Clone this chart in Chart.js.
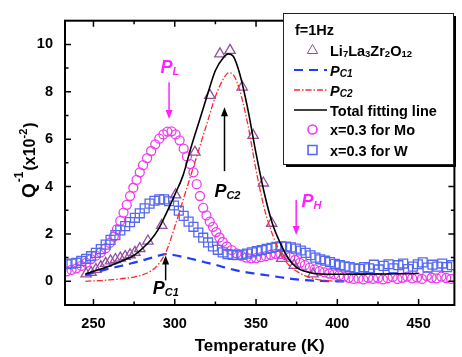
<!DOCTYPE html>
<html>
<head>
<meta charset="utf-8">
<title>Internal friction vs temperature</title>
<script src="https://cdn.jsdelivr.net/npm/chart.js@4.4.1/dist/chart.umd.min.js"></script>
<style>
    html, body { margin: 0; padding: 0; background: #fff; }
    #wrap { width: 462px; height: 357px; }
</style>
</head>
<body>
<div id="wrap"><canvas id="chart" width="462" height="357"></canvas></div>
<script>
var FONT = "'Liberation Sans', Arial, Helvetica, sans-serif";

// axis ticks
var xTicks = [250, 300, 350, 400, 450];
var xMinor = [275, 325, 375, 425];
var yTicks = [0, 2, 4, 6, 8, 10];
var yMinor = [1, 3, 5, 7, 9];

// Li7La3Zr2O12 measured points (Q^-1 in 1e-2)
var lzoTemp = [245.5, 248.5, 251.5, 254.5, 257.5, 260.5, 263.5, 266.5, 269.5, 272.5, 275.5, 278.5, 283.5, 292, 300.5, 312.4, 321.6, 327.8, 334, 341.5, 348.2, 354.5, 359.6, 365.8, 373.5, 385];
var lzoVal  = [0.31, 0.38, 0.5, 0.62, 0.76, 0.86, 0.92, 0.98, 1.05, 1.12, 1.22, 1.38, 1.7, 2.36, 3.65, 5.45, 7.85, 9.6, 9.75, 8.2, 6.16, 4.15, 2.45, 0.97, 0.67, 0.31];

// fitted peaks
var pc1Temp = [245, 250, 255, 260, 265, 270, 275, 280, 285, 290, 294.5, 300, 305, 310, 315, 320, 325, 330, 335, 340, 345, 350, 355, 360, 365, 370, 375, 380, 385, 390, 395, 400, 405];
var pc1Val  = [0.27, 0.36, 0.45, 0.54, 0.62, 0.7, 0.79, 0.88, 0.98, 1.08, 1.15, 1.1, 1.03, 0.95, 0.87, 0.78, 0.7, 0.6, 0.51, 0.43, 0.37, 0.32, 0.27, 0.22, 0.17, 0.12, 0.08, 0.05, 0.03, 0.02, 0.01, 0.0, 0.0];

var pc2Temp = [245, 250, 255, 260, 265, 270, 275, 280, 285, 290, 295, 300, 305, 310, 315, 320, 325, 330, 333, 336, 340, 345, 350, 355, 360, 365, 370, 375, 380, 385, 390, 395, 400, 405];
var pc2Val  = [0.0, 0.02, 0.03, 0.06, 0.09, 0.13, 0.18, 0.27, 0.42, 0.72, 1.3, 2.3, 3.4, 4.5, 5.6, 6.7, 7.8, 8.55, 8.8, 8.72, 8.05, 6.6, 4.7, 3.1, 2.0, 1.2, 0.7, 0.42, 0.24, 0.12, 0.05, 0.02, 0.0, 0.0];

var totalTemp = [245, 250, 255, 260, 265, 270, 275, 280, 285, 290, 295, 300, 305, 310, 315, 320, 325, 330, 333, 336, 340, 345, 350, 355, 360, 365, 370, 375, 380, 385, 390, 400, 410, 420, 430, 440, 450];
var totalVal  = [0.31, 0.42, 0.53, 0.65, 0.78, 0.93, 1.1, 1.38, 1.72, 2.2, 2.9, 3.65, 4.45, 5.65, 6.75, 7.85, 8.9, 9.45, 9.6, 9.5, 8.75, 7.25, 5.4, 3.75, 2.45, 1.6, 0.95, 0.58, 0.42, 0.34, 0.31, 0.3, 0.3, 0.31, 0.31, 0.32, 0.33];

// x=0.3 Mo doped
var moTemp = [233.5, 236.5, 239.5, 242.5, 245.5, 248.5, 251.5, 254.5, 257.5, 260, 262.5, 264.5, 266.5, 268.5, 270.5, 272.5, 274.5, 276.5, 278.5, 280.5, 283, 285.5, 288, 290.5, 293, 295.5, 298, 300.5, 303, 305.5, 307.5, 309.5, 311.5, 313.5, 315.5, 317.5, 319.5, 321.5, 323.5, 325.5, 327.5, 329.5, 332, 335, 338, 341, 344, 347, 350, 353, 356, 359, 362, 365, 368, 371, 374, 377, 380, 383, 386, 389, 392, 395, 398, 401, 404, 407, 410, 413, 416, 419, 422, 425, 428, 431, 434, 437, 440, 443, 446, 449, 452, 455, 458, 461, 464, 467, 470];
var moVal  = [0.42, 0.48, 0.55, 0.65, 0.78, 0.94, 1.08, 1.22, 1.4, 1.62, 1.89, 2.2, 2.55, 2.9, 3.23, 3.6, 3.95, 4.28, 4.6, 4.9, 5.2, 5.5, 5.78, 6.02, 6.2, 6.32, 6.33, 6.2, 5.95, 5.6, 5.27, 4.95, 4.6, 4.1, 3.6, 3.1, 2.78, 2.52, 2.3, 2.08, 1.85, 1.66, 1.47, 1.32, 1.18, 1.08, 1.0, 0.97, 0.98, 1.02, 1.06, 1.12, 1.16, 1.16, 1.12, 1.02, 0.9, 0.78, 0.68, 0.58, 0.5, 0.43, 0.38, 0.33, 0.29, 0.25, 0.2, 0.15, 0.1, 0.12, 0.08, 0.15, 0.1, 0.14, 0.08, 0.13, 0.18, 0.1, 0.15, 0.2, 0.12, 0.16, 0.1, 0.22, 0.15, 0.12, 0.2, 0.14, 0.1];

// x=0.3 W doped
var wTemp = [233.5, 236.5, 239.5, 242.5, 245.5, 248.5, 251.5, 254.5, 257.5, 260.5, 263.5, 266.5, 269.5, 272.5, 275.5, 278.5, 281.5, 284.5, 287.5, 290.5, 293.5, 296.5, 299.5, 302.5, 305.5, 308.5, 311.5, 314.5, 317.5, 320.5, 323.5, 326.5, 329.5, 332.5, 335.5, 338.5, 341.5, 344.5, 347.5, 350.5, 353.5, 356.5, 359.5, 362.5, 365.5, 368.5, 371.5, 374.5, 377.5, 380.5, 383.5, 386.5, 389.5, 392.5, 395.5, 398.5, 401.5, 404.5, 407.5, 410.5, 413.5, 416.5, 419.5, 422.5, 425.5, 428.5, 431.5, 434.5, 437.5, 440.5, 443.5, 446.5, 449.5, 452.5, 455.5, 458.5, 461.5, 464.5, 467.5, 470.5];
var wVal  = [0.72, 0.75, 0.78, 0.86, 0.95, 1.06, 1.2, 1.36, 1.55, 1.75, 1.95, 2.15, 2.33, 2.5, 2.68, 2.87, 3.08, 3.28, 3.4, 3.46, 3.46, 3.38, 3.2, 2.98, 2.76, 2.52, 2.3, 2.06, 1.84, 1.64, 1.47, 1.33, 1.22, 1.15, 1.11, 1.1, 1.13, 1.17, 1.22, 1.27, 1.32, 1.37, 1.41, 1.45, 1.48, 1.47, 1.43, 1.38, 1.3, 1.2, 1.1, 1.0, 0.93, 0.87, 0.81, 0.74, 0.68, 0.63, 0.6, 0.55, 0.53, 0.6, 0.55, 0.7, 0.5, 0.65, 0.72, 0.55, 0.68, 0.75, 0.52, 0.62, 0.72, 0.8, 0.58, 0.7, 0.62, 0.75, 0.6, 0.68];

var MAGENTA = '#f03cf0';
var PINK = '#ff22ff';
var BLUE_SQ = '#5468f0';
var PURPLE = '#9450a0';
var BLUE_DASH = '#1f3dff';
var RED = '#ff2a2a';

function points(xs, ys)
{
    return xs.map(function(x, i) { return {x: x, y: ys[i]}; });
}

// peak markers: arrow [temp, from, to] and label anchor [temp, baseline value]
var notes = [
    {main: 'P', sub: 'L',  color: PINK,   arrow: [296.5, 8.4, 6.85], label: [291.3, 8.81]},
    {main: 'P', sub: 'C2', color: '#000', arrow: [330.6, 4.65, 7.35], label: [324.4, 3.56]},
    {main: 'P', sub: 'C1', color: '#000', arrow: [294.4, 0.04, 1.09], label: [286.5, -0.53]},
    {main: 'P', sub: 'H',  color: PINK,   arrow: [374.7, 3.43, 1.95], label: [377.9, 3.15]}
];

function drawRich(ctx, parts, x, y)
{
    parts.forEach(function(p)
    {
        ctx.font = p.font;
        ctx.fillText(p.text, x, y + (p.dy || 0));
        x += ctx.measureText(p.text).width + (p.gap || 0);
    });
    return x;
}

function drawArrow(ctx, x, y0, y1, color)
{
    var dir = y1 > y0 ? 1 : -1;
    ctx.strokeStyle = color;
    ctx.fillStyle = color;
    ctx.lineWidth = 1.5;
    ctx.beginPath();
    ctx.moveTo(x, y0);
    ctx.lineTo(x, y1 - dir * 8);
    ctx.stroke();
    ctx.beginPath();
    ctx.moveTo(x, y1);
    ctx.lineTo(x - 3.5, y1 - dir * 9);
    ctx.lineTo(x + 3.5, y1 - dir * 9);
    ctx.closePath();
    ctx.fill();
}

var framePlugin = {
    id: 'frame',
    afterDatasetsDraw: function(chart)
    {
        var ctx = chart.ctx;
        var a = chart.chartArea;
        var xs = chart.scales.x;
        var ys = chart.scales.y;

        ctx.save();
        ctx.strokeStyle = '#000';
        ctx.lineWidth = 1.5;
        ctx.beginPath();
        function xTick(v, len)
        {
            var px = xs.getPixelForValue(v);
            ctx.moveTo(px, a.bottom); ctx.lineTo(px, a.bottom - len);
            ctx.moveTo(px, a.top); ctx.lineTo(px, a.top + len);
        }
        function yTick(v, len)
        {
            var py = ys.getPixelForValue(v);
            ctx.moveTo(a.left, py); ctx.lineTo(a.left + len, py);
            ctx.moveTo(a.right, py); ctx.lineTo(a.right - len, py);
        }
        xTicks.forEach(function(v) { xTick(v, 6); });
        xMinor.forEach(function(v) { xTick(v, 3.5); });
        yTicks.forEach(function(v) { yTick(v, 6); });
        yMinor.forEach(function(v) { yTick(v, 3.5); });
        ctx.stroke();

        ctx.lineWidth = 2;
        ctx.strokeRect(a.left, a.top, a.right - a.left, a.bottom - a.top);

        // peak arrows and labels
        ctx.textAlign = 'left';
        ctx.textBaseline = 'alphabetic';
        notes.forEach(function(n)
        {
            var ax = xs.getPixelForValue(n.arrow[0]);
            drawArrow(ctx, ax, ys.getPixelForValue(n.arrow[1]), ys.getPixelForValue(n.arrow[2]), n.color);
            ctx.fillStyle = n.color;
            drawRich(ctx, [
                {text: n.main, font: 'italic bold 18px ' + FONT},
                {text: n.sub, font: 'italic bold 11px ' + FONT, dy: 2}
            ], xs.getPixelForValue(n.label[0]), ys.getPixelForValue(n.label[1]));
        });

        // y axis title: Q^-1 (x10^-2)
        ctx.fillStyle = '#000';
        ctx.translate(35, 198);
        ctx.rotate(-Math.PI / 2);
        drawRich(ctx, [
            {text: 'Q', font: 'bold 19px ' + FONT, gap: 1},
            {text: '-1', font: 'bold 12px ' + FONT, dy: -12, gap: 1},
            {text: '(x10', font: 'bold 16px ' + FONT},
            {text: '-2', font: 'bold 11px ' + FONT, dy: -8, gap: 1},
            {text: ')', font: 'bold 16px ' + FONT}
        ], 0, 0);
        ctx.restore();
    }
};

var legendPlugin = {
    id: 'boxLegend',
    afterDraw: function(chart)
    {
        var ctx = chart.ctx;
        var ds = chart.data.datasets;
        var bx = 283, by = 13, bw = 170, bh = 151;
        var big = 'bold 14.5px ' + FONT;
        var small = 'bold 9.5px ' + FONT;
        var ital = 'italic bold 14.5px ' + FONT;
        var italSmall = 'italic bold 10px ' + FONT;
        var tx = 330, mx = 312.5;

        ctx.save();
        ctx.fillStyle = '#000';
        ctx.fillRect(bx + 3, by + 3, bw, bh);
        ctx.fillStyle = '#fff';
        ctx.fillRect(bx, by, bw, bh);
        ctx.strokeStyle = '#222';
        ctx.lineWidth = 1;
        ctx.strokeRect(bx + 0.5, by + 0.5, bw, bh);

        ctx.textAlign = 'left';
        ctx.textBaseline = 'alphabetic';
        ctx.fillStyle = '#000';
        ctx.font = big;
        ctx.fillText('f=1Hz', 295, 35);

        function marker(d, y)
        {
            ctx.fillStyle = 'rgba(0,0,0,0)';
            ctx.strokeStyle = d.borderColor;
            Chart.helpers.drawPoint(ctx, {pointStyle: d.pointStyle, radius: d.pointRadius, borderWidth: d.borderWidth, rotation: 0}, mx, y);
        }
        function line(d, y)
        {
            ctx.strokeStyle = d.borderColor;
            ctx.lineWidth = d.borderWidth;
            ctx.setLineDash(d.borderDash || []);
            ctx.beginPath();
            ctx.moveTo(294, y);
            ctx.lineTo(327, y);
            ctx.stroke();
            ctx.setLineDash([]);
        }

        var byLabel = {};
        ds.forEach(function(d) { byLabel[d.label] = d; });

        marker(byLabel.lzo, 50.5);
        ctx.fillStyle = '#000';
        drawRich(ctx, [
            {text: 'Li', font: big}, {text: '7', font: small, dy: 1},
            {text: 'La', font: big}, {text: '3', font: small, dy: 1},
            {text: 'Zr', font: big}, {text: '2', font: small, dy: 1},
            {text: 'O', font: big}, {text: '12', font: small, dy: 1}
        ], tx, 56);

        line(byLabel.pc1, 70);
        ctx.fillStyle = '#000';
        drawRich(ctx, [{text: 'P', font: ital}, {text: 'C1', font: italSmall, dy: 1}], tx, 75.5);

        line(byLabel.pc2, 90);
        ctx.fillStyle = '#000';
        drawRich(ctx, [{text: 'P', font: ital}, {text: 'C2', font: italSmall, dy: 1}], tx, 95.5);

        line(byLabel.total, 110);
        ctx.fillStyle = '#000';
        ctx.font = big;
        ctx.fillText('Total fitting line', tx, 115.5);

        marker(byLabel.mo, 129.5);
        ctx.fillStyle = '#000';
        ctx.font = big;
        ctx.fillText('x=0.3 for Mo', tx, 135);

        marker(byLabel.w, 150);
        ctx.fillStyle = '#000';
        ctx.font = big;
        ctx.fillText('x=0.3 for W', tx, 155.5);
        ctx.restore();
    }
};

var tickFont = {family: FONT, size: 14.5, weight: 'bold'};

new Chart(document.getElementById('chart').getContext('2d'), {
    type: 'scatter',
    data: {
        datasets: [
            {
                label: 'total', data: points(totalTemp, totalVal), showLine: true,
                borderColor: '#000', borderWidth: 1.6, pointRadius: 0,
                cubicInterpolationMode: 'monotone'
            },
            {
                label: 'pc2', data: points(pc2Temp, pc2Val), showLine: true,
                borderColor: RED, borderWidth: 1.3, borderDash: [6, 2, 1.5, 2], pointRadius: 0,
                cubicInterpolationMode: 'monotone'
            },
            {
                label: 'pc1', data: points(pc1Temp, pc1Val), showLine: true,
                borderColor: BLUE_DASH, borderWidth: 2.2, borderDash: [9, 6], pointRadius: 0,
                cubicInterpolationMode: 'monotone'
            },
            {
                label: 'lzo', data: points(lzoTemp, lzoVal),
                pointStyle: 'triangle', pointRadius: 6, borderWidth: 1.3,
                borderColor: PURPLE, backgroundColor: 'rgba(0,0,0,0)'
            },
            {
                label: 'w', data: points(wTemp, wVal),
                pointStyle: 'rect', pointRadius: 6.3, borderWidth: 1.3,
                borderColor: BLUE_SQ, backgroundColor: 'rgba(0,0,0,0)'
            },
            {
                label: 'mo', data: points(moTemp, moVal),
                pointStyle: 'circle', pointRadius: 4.5, borderWidth: 1.3,
                borderColor: MAGENTA, backgroundColor: 'rgba(0,0,0,0)'
            }
        ]
    },
    options: {
        responsive: false,
        animation: false,
        events: [],
        layout: {padding: {top: 7, right: 1, left: 0, bottom: 0}},
        plugins: {
            legend: {display: false},
            tooltip: {enabled: false}
        },
        scales: {
            x: {
                type: 'linear', min: 232.5, max: 472,
                grid: {display: false, drawTicks: false},
                border: {display: false},
                ticks: {font: tickFont, color: '#000', padding: 10, maxRotation: 0},
                title: {display: true, text: 'Temperature (K)', color: '#000',
                        font: {family: FONT, size: 17, weight: 'bold'}, padding: 0},
                afterBuildTicks: function(s) { s.ticks = xTicks.map(function(v) { return {value: v}; }); },
                afterFit: function(s) { s.height = 52; }
            },
            y: {
                type: 'linear', min: -1, max: 11,
                grid: {display: false, drawTicks: false},
                border: {display: false},
                ticks: {font: tickFont, color: '#000', padding: 12},
                afterBuildTicks: function(s) { s.ticks = yTicks.map(function(v) { return {value: v}; }); },
                afterFit: function(s) { s.width = 65; }
            }
        }
    },
    plugins: [framePlugin, legendPlugin]
});
</script>
</body>
</html>
